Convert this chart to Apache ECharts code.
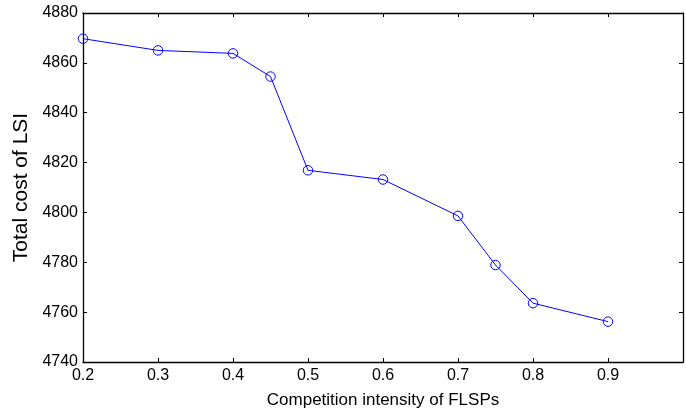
<!DOCTYPE html>
<html>
<head>
<meta charset="utf-8">
<script src="https://cdn.jsdelivr.net/npm/echarts@6/dist/echarts.min.js"></script>
<style>html,body{margin:0;padding:0;background:#fff}#c{width:686px;height:414px}</style>
</head>
<body>
<div id="c"></div>
<script>
var intensity = [0.2, 0.3, 0.4, 0.45, 0.5, 0.6, 0.7, 0.75, 0.8, 0.9];
var totalCost = [4869.7, 4865.0, 4863.8, 4854.5, 4816.9, 4813.2, 4798.6, 4778.9, 4763.6, 4756.2];
var xTicks = [0.2, 0.3, 0.4, 0.5, 0.6, 0.7, 0.8, 0.9, 1.0];
var yTicks = [4740, 4760, 4780, 4800, 4820, 4840, 4860, 4880];

var font = 'Liberation Sans, Arial, sans-serif';
var chart = echarts.init(document.getElementById('c'));
var axisLine = {show: true, lineStyle: {color: '#000', width: 1.3}};
var tickIn = {show: true, inside: true, length: 4, lineStyle: {color: '#000', width: 1}};
chart.setOption({
  animation: false,
  grid: {left: 83, top: 13, right: -3, bottom: 50.5, containLabel: false},
  xAxis: [{
    type: 'value', min: xTicks[0], max: xTicks[xTicks.length - 1], interval: 0.1,
    name: 'Competition intensity of FLSPs', nameLocation: 'middle', nameGap: 30,
    nameTextStyle: {color: '#000', fontSize: 17, fontFamily: font},
    axisLine: axisLine, axisTick: tickIn, splitLine: {show: false},
    axisLabel: {color: '#000', fontSize: 16, fontFamily: font, margin: 6,
      formatter: function (v) { return v >= 0.95 ? '' : v.toFixed(1); }}
  }, {
    type: 'value', position: 'top', min: xTicks[0], max: xTicks[xTicks.length - 1], interval: 0.1,
    axisLine: axisLine, axisTick: tickIn, axisLabel: {show: false}, splitLine: {show: false}
  }],
  yAxis: [{
    type: 'value', min: yTicks[0], max: yTicks[yTicks.length - 1], interval: 20,
    name: 'Total cost of LSI', nameLocation: 'middle', nameGap: 48,
    nameTextStyle: {color: '#000', fontSize: 21, fontFamily: font},
    axisLine: axisLine, axisTick: tickIn, splitLine: {show: false},
    axisLabel: {color: '#000', fontSize: 16, fontFamily: font, margin: 5,
      formatter: function (v) { return String(v); }}
  }, {
    type: 'value', position: 'right', min: yTicks[0], max: yTicks[yTicks.length - 1], interval: 20,
    axisLine: axisLine, axisTick: tickIn, axisLabel: {show: false}, splitLine: {show: false}
  }],
  series: [{
    type: 'line',
    data: intensity.map(function (x, i) { return [x, totalCost[i]]; }),
    symbol: 'circle', symbolSize: 9.5,
    lineStyle: {color: '#0000ff', width: 1},
    itemStyle: {color: 'rgba(255,255,255,0)', borderColor: '#0000ff', borderWidth: 1},
    emphasis: {disabled: true}
  }]
});
</script>
</body>
</html>
